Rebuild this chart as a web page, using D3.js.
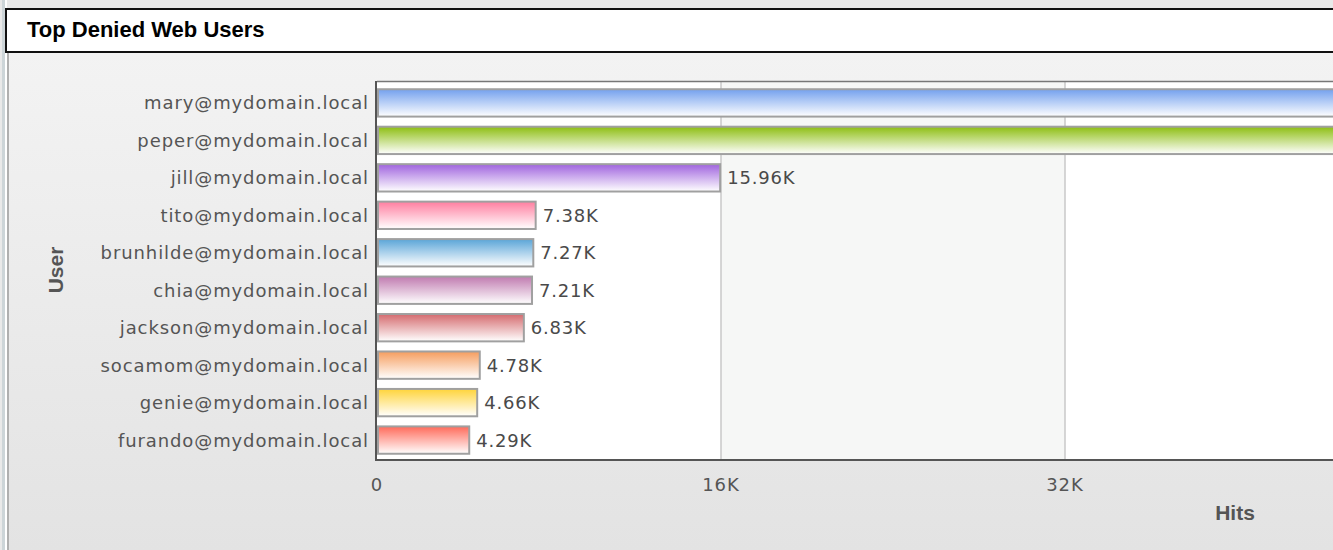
<!DOCTYPE html>
<meta charset="utf-8">
<script src="https://d3js.org/d3.v7.min.js"></script>
<style>
  html, body { margin: 0; padding: 0; overflow: hidden; background: #e9e9e9; }
</style>
<div id="chart"></div>
<script>

    // data
    const users = ["mary@mydomain.local", "peper@mydomain.local", "jill@mydomain.local",
        "tito@mydomain.local", "brunhilde@mydomain.local", "chia@mydomain.local",
        "jackson@mydomain.local", "socamom@mydomain.local", "genie@mydomain.local",
        "furando@mydomain.local"];
    const hits = [46300, 45800, 15960, 7380, 7270, 7210, 6830, 4780, 4660, 4290];
    const barColors = ["#73a0ee", "#8dbe12", "#9f63de", "#ff7ea0", "#5aa5d8",
        "#c07bb0", "#d46a6e", "#f59d5e", "#ffd43a", "#ff6a5a"];
    const xTicks = [0, 16000, 32000];

    const W = 1420, H = 550, viewW = 1333;
    const plot = {left: 377, top: 82, bottom: 460, right: 1409};

    const svg = d3.select("#chart")
        .append("svg")
        .attr("width", W)
        .attr("height", H)
        .style("display", "block");

    const defs = svg.append("defs");

    // panel background
    const bg = defs.append("linearGradient").attr("id", "panelBg")
        .attr("x1", 0).attr("y1", 0).attr("x2", 0).attr("y2", 1);
    bg.append("stop").attr("offset", "0%").attr("stop-color", "#f3f3f3");
    bg.append("stop").attr("offset", "100%").attr("stop-color", "#e3e3e3");

    // left edge strips
    svg.append("rect").attr("x", 2).attr("y", 0).attr("width", 3).attr("height", H).attr("fill", "#cdd5d8");
    svg.append("rect").attr("x", 5).attr("y", 0).attr("width", 2).attr("height", H).attr("fill", "#ffffff");
    svg.append("rect").attr("x", 7).attr("y", 52).attr("width", 2).attr("height", H).attr("fill", "#b0b0b0");
    svg.append("rect").attr("x", 9).attr("y", 52).attr("width", W).attr("height", H - 52).attr("fill", "url(#panelBg)");

    // title bar
    svg.append("rect")
        .attr("x", 6).attr("y", 9).attr("width", W).attr("height", 43)
        .attr("fill", "#fff").attr("stroke", "#111").attr("stroke-width", 2);
    svg.append("text")
        .attr("x", 27).attr("y", 37)
        .style("font-family", "'Liberation Sans', Arial, sans-serif")
        .style("font-weight", "bold").style("font-size", "22px")
        .attr("fill", "#000")
        .text("Top Denied Web Users");

    // scales
    const x = d3.scaleLinear()
        .domain([0, 48000])
        .range([plot.left, plot.right]);
    const y = d3.scaleBand()
        .domain(users)
        .range([plot.top + 2, plot.bottom - 1])
        .paddingInner(0.27)
        .paddingOuter(0.14);

    // plot area with alternating bands
    svg.append("rect")
        .attr("x", plot.left).attr("y", plot.top)
        .attr("width", plot.right - plot.left).attr("height", plot.bottom - plot.top)
        .attr("fill", "#fff");
    svg.selectAll("band")
        .data([[16000, 32000]])
        .join("rect")
        .attr("x", d => x(d[0]))
        .attr("y", plot.top)
        .attr("width", d => x(d[1]) - x(d[0]))
        .attr("height", plot.bottom - plot.top)
        .attr("fill", "#f6f7f6");

    // grid lines
    svg.selectAll("grid")
        .data(xTicks.slice(1))
        .join("line")
        .attr("x1", d => x(d)).attr("x2", d => x(d))
        .attr("y1", plot.top).attr("y2", plot.bottom)
        .attr("stroke", "#c8c8c8").attr("stroke-width", 1.5);

    // top border
    svg.append("line")
        .attr("x1", plot.left).attr("x2", W)
        .attr("y1", plot.top - 0.5).attr("y2", plot.top - 0.5)
        .attr("stroke", "#777").attr("stroke-width", 1.5);

    // bar gradients
    barColors.forEach((c, i) => {
        const g = defs.append("linearGradient").attr("id", "bar" + i)
            .attr("x1", 0).attr("y1", 0).attr("x2", 0).attr("y2", 1);
        g.append("stop").attr("offset", "0%").attr("stop-color", c);
        g.append("stop").attr("offset", "100%").attr("stop-color", "#ffffff");
    });

    const rows = users.map((u, i) => ({user: u, hits: hits[i], i: i}));

    // bars
    svg.selectAll("bar")
        .data(rows)
        .join("rect")
        .attr("x", x(0) + 1)
        .attr("y", d => y(d.user))
        .attr("width", d => x(d.hits) - x(0) - 1)
        .attr("height", y.bandwidth())
        .attr("fill", d => "url(#bar" + d.i + ")")
        .attr("stroke", "#a0a0a0")
        .attr("stroke-width", 2);

    const labelFont = "'DejaVu Sans', Verdana, sans-serif";

    // value labels (the two long bars run past the window, so theirs are not shown)
    svg.selectAll("valLabel")
        .data(rows.filter(d => x(d.hits) + 80 < viewW))
        .join("text")
        .attr("x", d => x(d.hits) + 7)
        .attr("y", d => y(d.user) + y.bandwidth() / 2)
        .attr("dy", "0.36em")
        .style("font-family", labelFont).style("font-size", "18px")
        .style("letter-spacing", "0.8px")
        .attr("fill", "#4a4a4a")
        .text(d => (d.hits / 1000).toFixed(2) + "K");

    // category labels
    svg.selectAll("catLabel")
        .data(rows)
        .join("text")
        .attr("x", plot.left - 8)
        .attr("y", d => y(d.user) + y.bandwidth() / 2)
        .attr("dy", "0.36em")
        .attr("text-anchor", "end")
        .style("font-family", labelFont).style("font-size", "18px")
        .style("letter-spacing", "0.9px")
        .attr("fill", "#555")
        .text(d => d.user);

    // axes lines
    svg.append("line")
        .attr("x1", plot.left - 1).attr("x2", plot.left - 1)
        .attr("y1", plot.top - 1).attr("y2", plot.bottom + 1)
        .attr("stroke", "#555").attr("stroke-width", 2);
    svg.append("line")
        .attr("x1", plot.left - 2).attr("x2", W)
        .attr("y1", plot.bottom).attr("y2", plot.bottom)
        .attr("stroke", "#555").attr("stroke-width", 2);

    // x tick labels
    svg.selectAll("xTick")
        .data(xTicks)
        .join("text")
        .attr("x", d => x(d))
        .attr("y", 491)
        .attr("text-anchor", "middle")
        .style("font-family", labelFont).style("font-size", "18px")
        .style("letter-spacing", "1px")
        .attr("fill", "#555")
        .text(d => d === 0 ? "0" : (d / 1000) + "K");

    // axis titles
    svg.append("text")
        .attr("transform", "translate(63,270) rotate(-90)")
        .attr("text-anchor", "middle")
        .style("font-family", "'Liberation Sans', Arial, sans-serif")
        .style("font-weight", "bold").style("font-size", "21px")
        .attr("fill", "#555")
        .text("User");
    svg.append("text")
        .attr("x", 1235).attr("y", 520)
        .attr("text-anchor", "middle")
        .style("font-family", "'Liberation Sans', Arial, sans-serif")
        .style("font-weight", "bold").style("font-size", "21px")
        .attr("fill", "#555")
        .text("Hits");

</script>
